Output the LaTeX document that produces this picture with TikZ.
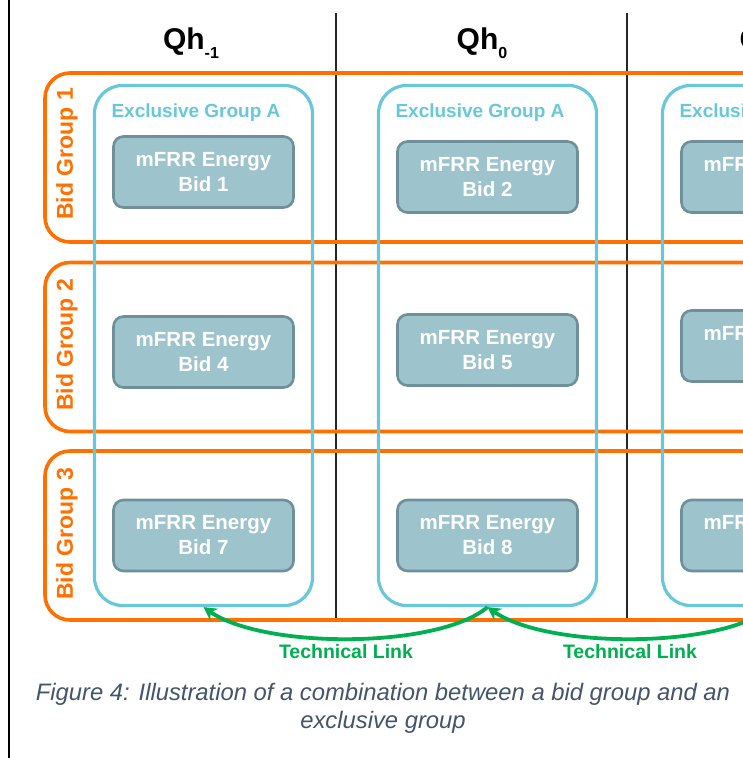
\documentclass[tikz,border=0pt]{standalone}
\usepackage{fontspec}
\setmainfont{Liberation Sans}
\usetikzlibrary{arrows.meta}
\definecolor{bgorange}{RGB}{255,112,0}
\definecolor{excyan}{RGB}{104,200,217}
\definecolor{bidfill}{RGB}{157,195,205}
\definecolor{bidline}{RGB}{112,144,153}
\definecolor{linkgreen}{RGB}{0,176,80}
\definecolor{capgray}{RGB}{68,84,106}
\tikzset{
  bidgroup/.style={draw=bgorange, line width=3.6pt, rounded corners=25pt, minimum width=1000pt, minimum height=169pt, inner sep=0pt},
  bglabel/.style={text=bgorange, font=\fontsize{23}{23}\selectfont\bfseries, rotate=90, inner sep=0pt},
  exgroup/.style={draw=excyan, line width=3.2pt, rounded corners=28pt, minimum width=218pt, minimum height=520pt, inner sep=0pt},
  exlabel/.style={text=excyan, font=\fontsize{19}{19}\selectfont\bfseries, inner sep=0pt},
  bidbox/.style={draw=bidline, fill=bidfill, line width=2.6pt, rounded corners=10pt, minimum width=180pt, minimum height=71pt, text=white, align=center, font=\fontsize{20.5}{25}\selectfont\bfseries, inner sep=0pt},
  header/.style={font=\fontsize{30}{30}\selectfont\bfseries, inner sep=0pt},
  divider/.style={draw=black!85, line width=1.3pt},
  link/.style={draw=linkgreen, line width=3.8pt, -{Stealth[length=13pt,width=14pt]}},
  linklabel/.style={text=linkgreen, font=\fontsize{19.5}{19.5}\selectfont\bfseries, inner sep=0pt},
  caption/.style={text=capgray, font=\fontsize{23.8}{28}\selectfont\itshape, align=center, inner sep=0pt}
}
\newcommand{\qsub}[1]{\raisebox{-0.3em}{\fontsize{16}{16}\selectfont #1}}
\begin{document}
\begin{tikzpicture}[x=1pt,y=-1pt]
\useasboundingbox (0,0) rectangle (743,758);
\clip (0,0) rectangle (743,758);
\fill[white] (0,0) rectangle (743,758);
% frame line on the left
\coordinate (ft) at (8.5,0);
\coordinate (fb) at (8.5,758);
\draw[line width=2pt] (ft) -- (fb);
% column dividers
\coordinate (d1t) at (336,13);
\coordinate (d1b) at (336,620);
\coordinate (d2t) at (627,13);
\coordinate (d2b) at (627,620);
\draw[divider] (d1t) -- (d1b);
\draw[divider] (d2t) -- (d2b);
% headers
\node[header] (h1) at (191,43) {Qh\qsub{-1}};
\node[header] (h2) at (482,43) {Qh\qsub{0}};
\node[header] (h3) at (765,43) {Qh\qsub{1}};
% bid groups
\node[bidgroup] (bg1) at (545,157.5) {};
\node[bidgroup] (bg2) at (545,347) {};
\node[bidgroup] (bg3) at (545,535.5) {};
\node[bglabel] (bgl1) at (67,154) {Bid Group 1};
\node[bglabel] (bgl2) at (67,345) {Bid Group 2};
\node[bglabel] (bgl3) at (67,534) {Bid Group 3};
% exclusive groups
\node[exgroup] (g1) at (203.5,345.5) {};
\node[exgroup] (g2) at (487.5,345.5) {};
\node[exgroup] (g3) at (771.5,345.5) {};
\node[exlabel] (gl1) at (196,113) {Exclusive Group A};
\node[exlabel] (gl2) at (480,113) {Exclusive Group A};
\node[exlabel] (gl3) at (764,113) {Exclusive Group A};
% bids
\node[bidbox] (b1) at (203.5,172) {mFRR Energy\\Bid 1};
\node[bidbox] (b2) at (487.5,177) {mFRR Energy\\Bid 2};
\node[bidbox] (b3) at (771.5,177) {mFRR Energy\\Bid 3};
\node[bidbox] (b4) at (203.5,352) {mFRR Energy\\Bid 4};
\node[bidbox] (b5) at (487.5,350) {mFRR Energy\\Bid 5};
\node[bidbox] (b6) at (771.5,346) {mFRR Energy\\Bid 6};
\node[bidbox] (b7) at (203.5,535.5) {mFRR Energy\\Bid 7};
\node[bidbox] (b8) at (487.5,535.5) {mFRR Energy\\Bid 8};
\node[bidbox] (b9) at (771.5,535.5) {mFRR Energy\\Bid 9};
% technical links
\draw[link] (g2.south) .. controls +(-50,42) and +(60,42) .. (g1.south);
\draw[link] (g3.south) .. controls +(-50,42) and +(60,42) .. (g2.south);
\node[linklabel] (tl1) at (346,652) {Technical Link};
\node[linklabel] (tl2) at (630,652) {Technical Link};
% caption
\node[caption] (cap) at (383,708) {Figure 4: Illustration of a combination between a bid group and an\\exclusive group};
\end{tikzpicture}
\end{document}
